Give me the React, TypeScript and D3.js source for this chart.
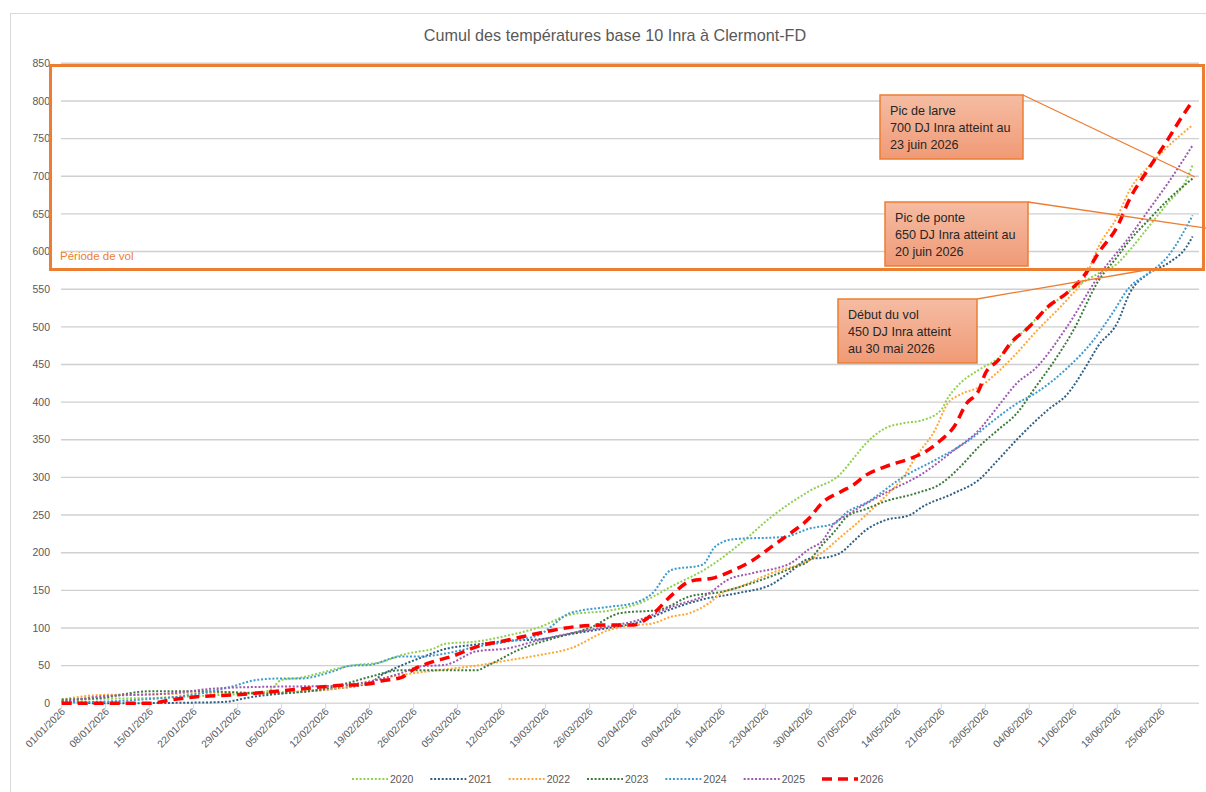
import React from "react";
import * as d3 from "d3";

const title = "Cumul des températures base 10 Inra à Clermont-FD";

const tickLabels = [
  "01/01/2026", "08/01/2026", "15/01/2026", "22/01/2026", "29/01/2026",
  "05/02/2026", "12/02/2026", "19/02/2026", "26/02/2026", "05/03/2026",
  "12/03/2026", "19/03/2026", "26/03/2026", "02/04/2026", "09/04/2026",
  "16/04/2026", "23/04/2026", "30/04/2026", "07/05/2026", "14/05/2026",
  "21/05/2026", "28/05/2026", "04/06/2026", "11/06/2026", "18/06/2026",
  "25/06/2026",
];

const yTicks = [0, 50, 100, 150, 200, 250, 300, 350, 400, 450, 500, 550, 600, 650, 700, 750, 800, 850];

const seriesNames = ["2020", "2021", "2022", "2023", "2024", "2025", "2026"];

// [day index from 01/01, cumulated degree-days]
const s2020: [number, number][] = [
  [0, 3], [7, 6], [14, 7], [25, 11], [30, 13], [33, 17], [35, 31], [38, 34], [41, 40], [46, 50],
  [51, 55], [54, 64], [57, 69], [59, 72], [61, 79], [66, 82], [71, 90], [76, 101], [81, 118],
  [87, 123], [92, 133], [97, 155], [103, 181], [108, 212], [113, 248], [119, 282], [124, 305],
  [126, 325], [128, 345], [131, 365], [134, 372], [137, 376], [140, 390], [141, 405], [143, 425],
  [146, 443], [149, 458], [152, 485], [155, 510], [160, 545], [165, 571], [168, 584], [170, 602],
  [173, 633], [176, 664], [179, 695], [180, 715],
];

const s2021: [number, number][] = [
  [0, 3], [6, 0], [22, 1], [26, 2], [30, 8], [35, 13], [43, 19], [49, 27], [51, 38], [54, 50],
  [57, 60], [61, 72], [66, 78], [71, 83], [76, 85], [81, 92], [87, 100], [92, 108], [97, 125],
  [102, 138], [108, 147], [113, 158], [116, 175], [119, 192], [121, 193], [124, 200], [126, 215],
  [128, 230], [131, 243], [135, 250], [137, 261], [142, 279], [146, 297], [149, 323], [152, 350],
  [155, 375], [157, 390], [160, 410], [163, 447], [165, 475], [168, 505], [170, 545], [173, 571],
  [176, 584], [179, 606], [180, 620],
];

const s2022: [number, number][] = [
  [0, 5], [6, 11], [14, 12], [25, 14], [35, 15], [46, 22], [51, 33], [57, 41], [61, 45], [66, 50],
  [71, 57], [76, 64], [81, 73], [87, 97], [90, 103], [94, 106], [97, 115], [100, 120], [103, 133],
  [105, 146], [108, 155], [113, 173], [119, 190], [121, 200], [124, 221], [126, 235], [128, 250],
  [131, 274], [134, 301], [136, 328], [139, 363], [141, 398], [143, 410], [146, 420], [149, 440],
  [152, 465], [155, 493], [160, 536], [163, 567], [165, 606], [168, 646], [170, 682], [173, 713],
  [176, 739], [180, 768],
];

const s2023: [number, number][] = [
  [0, 5], [6, 7], [14, 16], [22, 16], [33, 13], [41, 18], [46, 28], [49, 35], [54, 44], [57, 44],
  [61, 44], [66, 44], [68, 51], [73, 72], [79, 88], [84, 100], [89, 120], [95, 124], [100, 142],
  [105, 148], [110, 160], [116, 179], [119, 190], [121, 210], [123, 228], [125, 248], [128, 258],
  [131, 268], [136, 279], [140, 292], [143, 314], [146, 341], [149, 363], [152, 385], [155, 420],
  [158, 455], [161, 495], [165, 561], [168, 593], [170, 615], [173, 642], [176, 668], [180, 697],
];

const s2024: [number, number][] = [
  [0, 1], [11, 4], [22, 13], [27, 22], [31, 31], [35, 33], [38, 33], [43, 42], [46, 50], [49, 51],
  [54, 62], [57, 62], [61, 66], [66, 75], [71, 82], [76, 91], [81, 120], [87, 128], [91, 133],
  [94, 146], [97, 177], [102, 184], [104, 208], [107, 218], [115, 221], [119, 232], [123, 239],
  [125, 254], [128, 266], [134, 301], [139, 323], [144, 347], [149, 380], [152, 398], [155, 412],
  [160, 445], [164, 480], [167, 515], [170, 553], [173, 571], [176, 593], [180, 648],
];

const s2025: [number, number][] = [
  [0, 1], [6, 9], [17, 13], [25, 20], [33, 22], [43, 23], [49, 29], [54, 40], [57, 49], [61, 51],
  [66, 69], [71, 73], [76, 84], [81, 93], [87, 102], [92, 111], [97, 128], [103, 146], [106, 164],
  [110, 173], [116, 186], [119, 205], [121, 215], [123, 239], [125, 250], [131, 279], [137, 305],
  [142, 336], [146, 363], [149, 394], [152, 425], [155, 445], [160, 500], [165, 567], [170, 620],
  [173, 655], [176, 690], [180, 741],
];

const s2026: [number, number][] = [
  [0, 0], [14, 0], [17, 4], [22, 9], [27, 11], [33, 15], [38, 19], [43, 23], [49, 26], [51, 30],
  [54, 34], [56, 45], [59, 55], [62, 62], [66, 75], [71, 84], [77, 95], [82, 102], [87, 104],
  [91, 104], [94, 118], [97, 143], [100, 162], [104, 167], [107, 177], [110, 190], [113, 208],
  [116, 226], [119, 246], [121, 266], [124, 281], [126, 290], [128, 303], [131, 314], [135, 325],
  [137, 332], [140, 350], [142, 367], [144, 398], [146, 416], [147, 438], [149, 455], [151, 478],
  [154, 500], [157, 527], [160, 545], [163, 571], [165, 598], [168, 633], [170, 670], [173, 710],
  [176, 748], [178, 775], [180, 800],
];

const seriesData = [s2020, s2021, s2022, s2023, s2024, s2025, s2026];

const seriesColors = ["#8FD14F", "#2F5F85", "#FFA733", "#3C7A3C", "#3D9BCF", "#9E58B2", "#FF0000"];

const callouts = [
  { lines: ["Pic de larve", "700 DJ Inra atteint au", "23 juin 2026"], box: [880, 95, 143, 64], lead: [1023, 95, 1195, 177] },
  { lines: ["Pic de ponte", "650 DJ Inra atteint au", "20 juin 2026"], box: [885, 202, 143, 64], lead: [1028, 202, 1212, 229] },
  { lines: ["Début du vol", "450 DJ Inra atteint", "au 30 mai 2026"], box: [838, 299, 139, 64], lead: [977, 299, 1146, 270] },
];

const FONT = "'Liberation Sans', Arial, sans-serif";

export default function App() {
  const W = 1206;
  const H = 792;
  const x = d3.scaleLinear().domain([0, 181]).range([61.7, 1198.9]);
  const y = d3.scaleLinear().domain([0, 850]).range([703.3, 63.3]);
  const line = d3
    .line<[number, number]>()
    .x((d) => x(d[0]))
    .y((d) => y(d[1]))
    .curve(d3.curveMonotoneX);

  const legendX = d3.scaleLinear().domain([0, 6]).range([352, 822]);

  return (
    <svg
      width={W}
      height={H}
      style={{ position: "absolute", left: 0, top: 0, background: "#fff" }}
      fontFamily={FONT}
    >
      <defs>
        <linearGradient id="calloutFill" x1="0" y1="0" x2="0" y2="1">
          <stop offset="0" stopColor="#F5BCA3" />
          <stop offset="1" stopColor="#F09A76" />
        </linearGradient>
      </defs>
      <rect x={10.5} y={13.5} width={1230} height={800} fill="#fff" stroke="#D9D9D9" strokeWidth={1} />

      <text x={615} y={41} textAnchor="middle" fontSize={16.2} fill="#595959">
        {title}
      </text>

      {/* gridlines */}
      {yTicks.map((t) =>
        t === 0 ? null : (
          <line key={"g" + t} x1={61} x2={1199} y1={y(t)} y2={y(t)} stroke="#D0D0D0" strokeWidth={1.4} />
        )
      )}
      {/* y labels */}
      {yTicks.map((t) => (
        <text key={"yl" + t} x={50} y={y(t)} dy="0.35em" textAnchor="end" fontSize={10.5} fill="#595959">
          {t}
        </text>
      ))}

      {/* x axis */}
      <line x1={61} x2={1199} y1={y(0)} y2={y(0)} stroke="#D9D9D9" strokeWidth={1.4} />
      {tickLabels.map((lab, i) => {
        const tx = x(i * 7);
        return (
          <g key={"xt" + i}>
            <line x1={tx} x2={tx} y1={y(0)} y2={y(0) + 5} stroke="#D9D9D9" strokeWidth={1} />
            <text
              transform={`translate(${tx + 4},${y(0) + 9}) rotate(-45)`}
              textAnchor="end"
              fontSize={10.2}
              fill="#595959"
            >
              {lab}
            </text>
          </g>
        );
      })}

      {/* series */}
      {seriesData.map((d, i) => {
        const is2026 = i === 6;
        return (
          <path
            key={"s" + i}
            d={line(d) || ""}
            fill="none"
            stroke={seriesColors[i]}
            strokeWidth={is2026 ? 3.5 : 2}
            strokeDasharray={is2026 ? "10 6" : "2 1.8"}
          />
        );
      })}

      {/* flight period frame */}
      <rect x={50.5} y={65.5} width={1153} height={204} fill="none" stroke="#ED7D31" strokeWidth={3} />
      <text x={60} y={260} fontSize={11.5} fill="#ED7D31">
        Période de vol
      </text>

      {/* callouts */}
      {callouts.map((c, i) => (
        <g key={"c" + i}>
          <line x1={c.lead[0]} y1={c.lead[1]} x2={c.lead[2]} y2={c.lead[3]} stroke="#ED7D31" strokeWidth={1.3} />
          <rect
            x={c.box[0]}
            y={c.box[1]}
            width={c.box[2]}
            height={c.box[3]}
            fill="url(#calloutFill)"
            stroke="#ED7D31"
            strokeWidth={1.5}
          />
          {c.lines.map((t, j) => (
            <text key={j} x={c.box[0] + 10} y={c.box[1] + 20 + j * 17.2} fontSize={12.6} fill="#262626">
              {t}
            </text>
          ))}
        </g>
      ))}

      {/* legend */}
      {seriesNames.map((n, i) => {
        const lx = legendX(i);
        const is2026 = i === 6;
        return (
          <g key={"l" + i}>
            <line
              x1={lx}
              x2={lx + 36}
              y1={779}
              y2={779}
              stroke={seriesColors[i]}
              strokeWidth={is2026 ? 3.5 : 2}
              strokeDasharray={is2026 ? "10 6" : "2 1.8"}
            />
            <text x={lx + 38} y={779} dy="0.35em" fontSize={10.5} fill="#595959">
              {n}
            </text>
          </g>
        );
      })}
    </svg>
  );
}
